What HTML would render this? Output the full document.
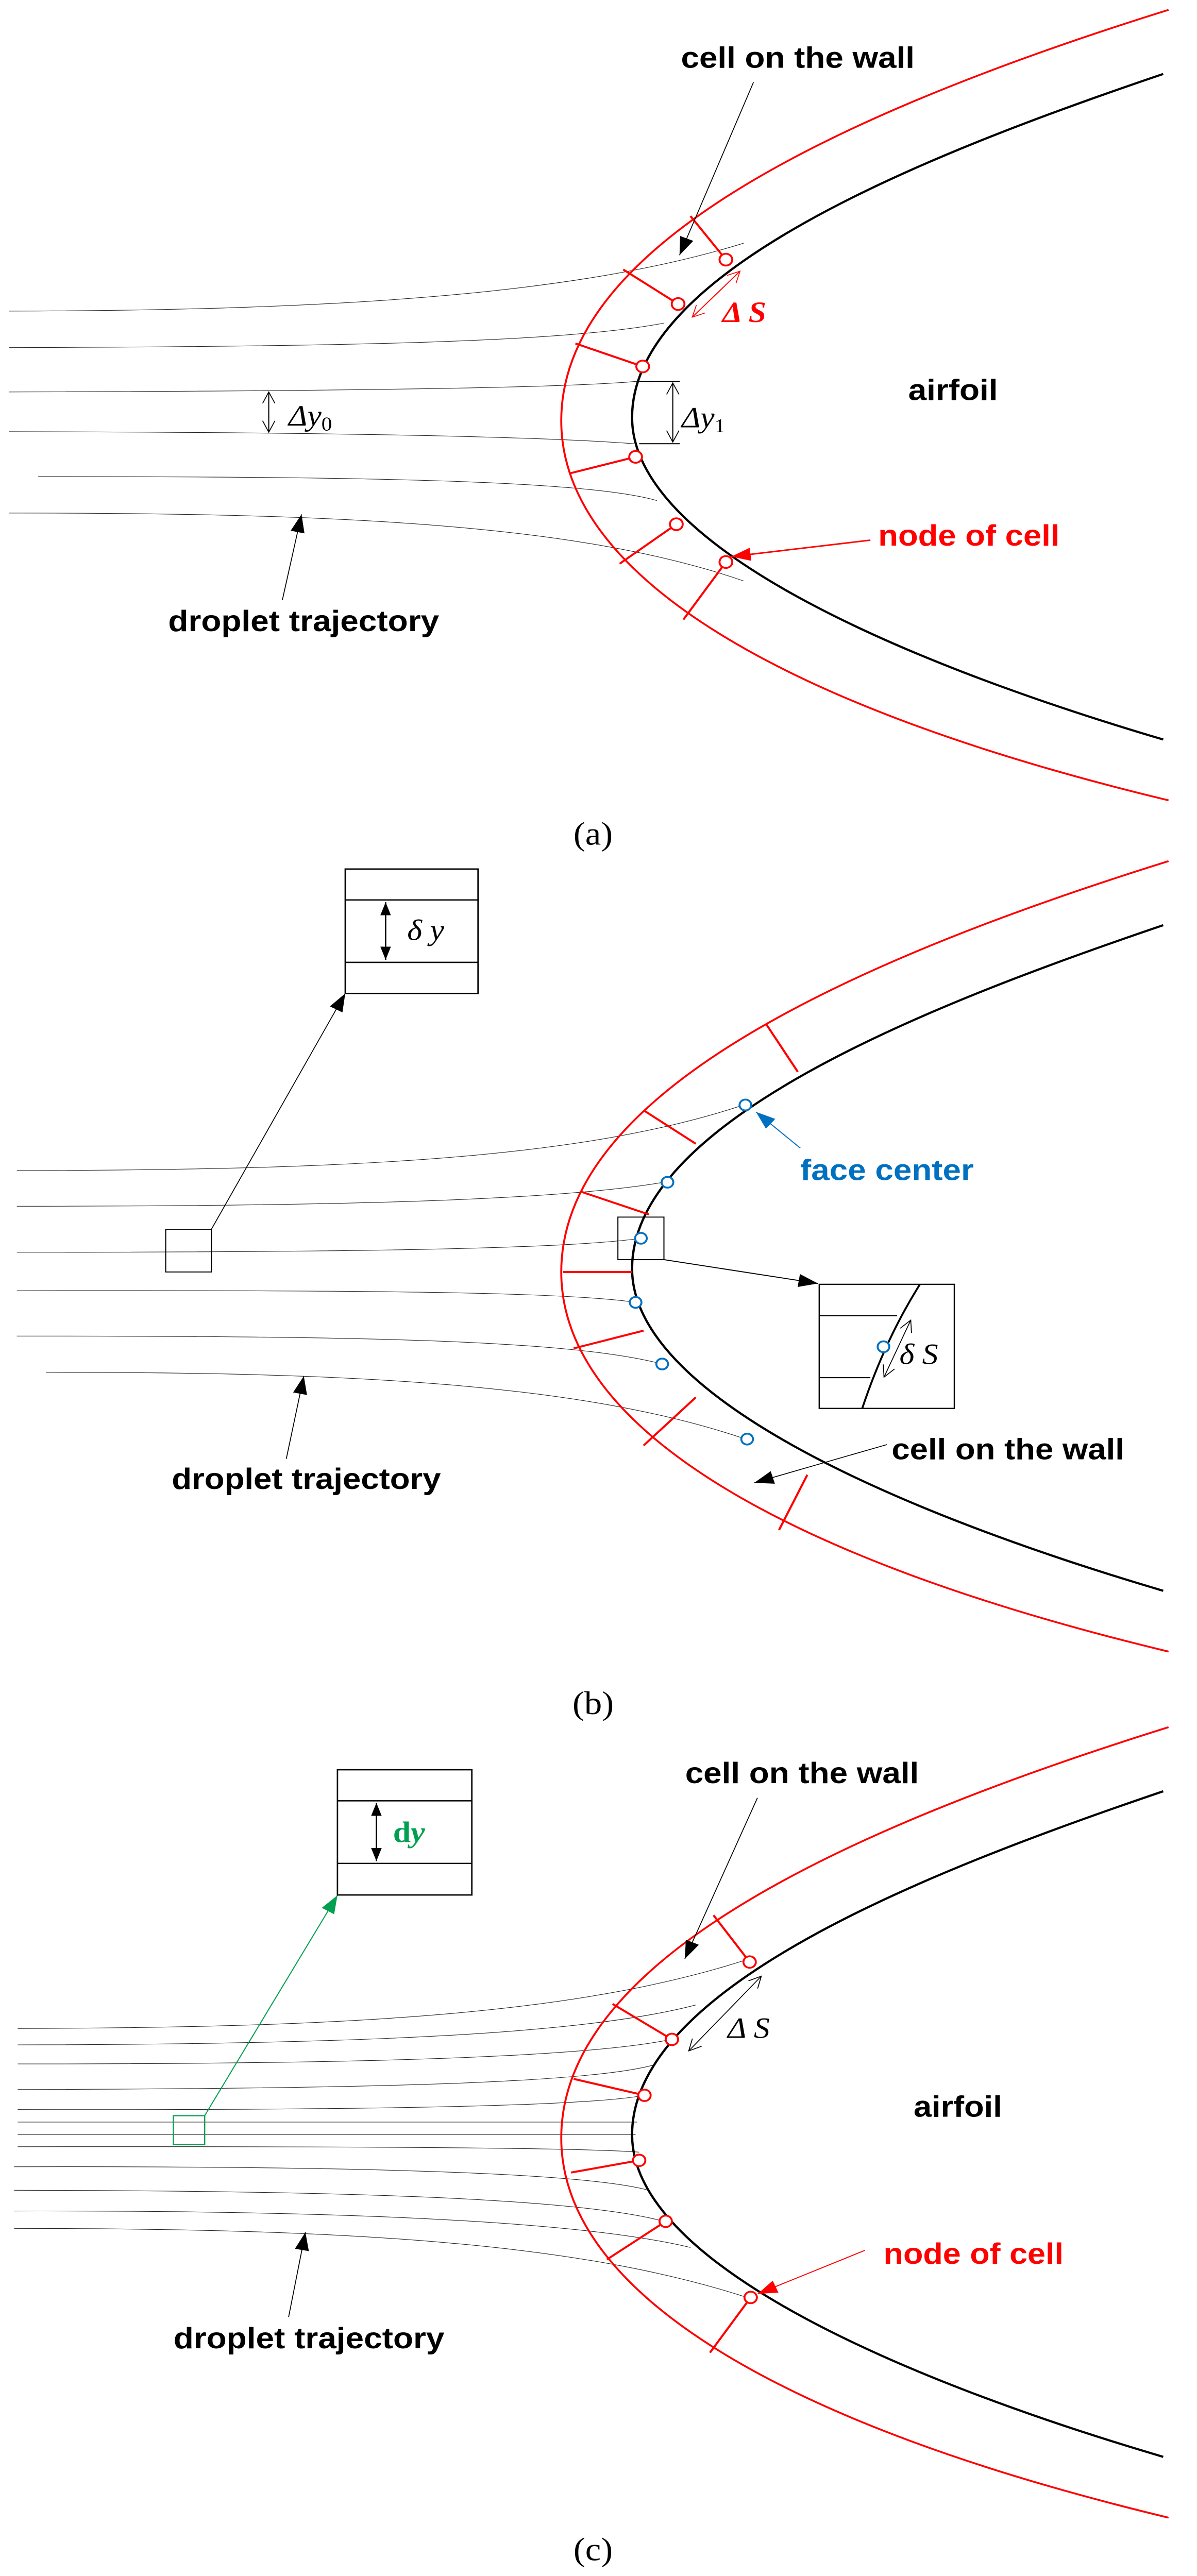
<!DOCTYPE html>
<html><head><meta charset="utf-8"><style>
html,body{margin:0;padding:0;background:#fff;width:100%;height:100%;overflow:hidden}
svg{display:block;position:absolute;left:0;top:0;width:100vw;height:100vh}
.lbl{font-family:"Liberation Sans Narrow","Liberation Sans",sans-serif;font-weight:bold;font-size:18px}
.m{font-family:"Liberation Serif",serif;font-style:italic;font-size:18px}
.cap{font-family:"Liberation Serif",serif;font-size:20px}
</style></head><body>
<svg viewBox="0 0 676.08 1567.5" preserveAspectRatio="none" xmlns="http://www.w3.org/2000/svg">
<defs>
<marker id="ab" markerUnits="userSpaceOnUse" markerWidth="12" markerHeight="8" refX="11" refY="4" orient="auto-start-reverse"><path d="M0,0 L11,4 L0,8 z" fill="#000"/></marker>
<marker id="ar" markerUnits="userSpaceOnUse" markerWidth="12" markerHeight="8" refX="11" refY="4" orient="auto-start-reverse"><path d="M0,0 L11,4 L0,8 z" fill="#f00"/></marker>
<marker id="abl" markerUnits="userSpaceOnUse" markerWidth="12" markerHeight="8" refX="11" refY="4" orient="auto-start-reverse"><path d="M0,0 L11,4 L0,8 z" fill="#0070c0"/></marker>
<marker id="ag" markerUnits="userSpaceOnUse" markerWidth="12" markerHeight="8" refX="11" refY="4" orient="auto-start-reverse"><path d="M0,0 L11,4 L0,8 z" fill="#00a050"/></marker>
<marker id="ob" markerUnits="userSpaceOnUse" markerWidth="8" markerHeight="8" refX="7" refY="4" orient="auto-start-reverse"><path d="M0,0.5 L7,4 L0,7.5" fill="none" stroke="#000" stroke-width="0.5"/></marker>
<marker id="or" markerUnits="userSpaceOnUse" markerWidth="8" markerHeight="8" refX="7" refY="4" orient="auto-start-reverse"><path d="M0,0.5 L7,4 L0,7.5" fill="none" stroke="#f00" stroke-width="0.5"/></marker>
<marker id="fb" markerUnits="userSpaceOnUse" markerWidth="9" markerHeight="6" refX="8" refY="3" orient="auto-start-reverse"><path d="M0,0 L8,3 L0,6 z" fill="#000"/></marker>
<g id="red"><path d="M660,6 C440,80 317,160 317,256 C317,350 440,430 660,487" fill="none" stroke="#f00" stroke-width="1.1"/></g>
<g id="blk"><path d="M657,45 C520,95 357,165 357,254 C357,330 500,400 657,450" fill="none" stroke="#000" stroke-width="1.3"/></g>
</defs>

<!-- ===== Panel (a) ===== -->
<g fill="none" stroke="#222" stroke-width="0.35">
<path d="M5,189.3 C200,189 330,178 420,148"/>
<path d="M5,211.5 C200,211 320,208 375,196.6"/>
<path d="M5,238.5 C200,238 320,236 360,232"/>
<path d="M5,262.7 C200,263 310,266 358,270"/>
<path d="M21.6,290 C200,290 330,292 371,304.6"/>
<path d="M5,312.2 C200,312 330,320 420,353.5"/>
</g>
<use href="#red"/>
<use href="#blk"/>
<g stroke="#f00" stroke-width="1.2">
<line x1="390" y1="131.5" x2="410" y2="158"/>
<line x1="352" y1="164" x2="383" y2="185"/>
<line x1="325" y1="209" x2="363" y2="223"/>
<line x1="322" y1="288" x2="359" y2="278"/>
<line x1="350" y1="343" x2="382" y2="319"/>
<line x1="386" y1="377" x2="410" y2="342"/>
</g>
<g fill="#fff" stroke="#f00" stroke-width="1.1">
<circle cx="410" cy="158" r="3.6"/><circle cx="383" cy="185" r="3.6"/><circle cx="363" cy="223" r="3.6"/>
<circle cx="359" cy="278" r="3.6"/><circle cx="382" cy="319" r="3.6"/><circle cx="410" cy="342" r="3.6"/>
</g>
<g stroke="#000" stroke-width="0.6" fill="none">
<line x1="361" y1="232" x2="384" y2="232"/>
<line x1="361" y1="270" x2="384" y2="270"/>
<line x1="380" y1="233" x2="380" y2="269" marker-start="url(#ob)" marker-end="url(#ob)"/>
<line x1="151.8" y1="238.5" x2="151.8" y2="263" marker-start="url(#ob)" marker-end="url(#ob)"/>
</g>
<text class="m" x="385" y="260">Δ<tspan>y</tspan><tspan font-style="normal" font-size="12" dy="3">1</tspan></text>
<text class="m" x="163" y="259">Δ<tspan>y</tspan><tspan font-style="normal" font-size="12" dy="3">0</tspan></text>
<line x1="391" y1="193" x2="418" y2="165" stroke="#f00" stroke-width="0.6" marker-start="url(#or)" marker-end="url(#or)"/>
<text class="m" x="408" y="196" fill="#f00" font-weight="bold">Δ S</text>
<text class="lbl" x="384.6" y="41.3" textLength="132" lengthAdjust="spacingAndGlyphs">cell on the wall</text>
<line x1="425.6" y1="50" x2="383.8" y2="155.3" stroke="#000" stroke-width="0.5" marker-end="url(#ab)"/>
<text class="lbl" x="513" y="243.5" textLength="50.6" lengthAdjust="spacingAndGlyphs">airfoil</text>
<text class="lbl" x="496" y="332" fill="#f00" textLength="102.5" lengthAdjust="spacingAndGlyphs">node of cell</text>
<line x1="491.6" y1="328.7" x2="413" y2="338.7" stroke="#f00" stroke-width="0.9" marker-end="url(#ar)"/>
<text class="lbl" x="95" y="384" textLength="153" lengthAdjust="spacingAndGlyphs">droplet trajectory</text>
<line x1="159.5" y1="365" x2="170.3" y2="313" stroke="#000" stroke-width="0.5" marker-end="url(#ab)"/>
<text class="cap" x="335" y="514" text-anchor="middle">(a)</text>

<!-- ===== Panel (b) ===== -->
<g fill="none" stroke="#222" stroke-width="0.35">
<path d="M9.5,712.3 C200,712 330,705 421,672"/>
<path d="M9.5,734 C200,734 320,730 377,719"/>
<path d="M9.5,762 C200,762 320,760 362,753.5"/>
<path d="M9.5,785.4 C200,785 320,786 359,792.5"/>
<path d="M9.5,813 C200,813 320,815 374,830"/>
<path d="M26,835 C200,835 330,842 422,876"/>
</g>
<use href="#red" transform="translate(0,518)"/>
<use href="#blk" transform="translate(0,518)"/>
<g stroke="#f00" stroke-width="1.2">
<line x1="433" y1="623.6" x2="450.6" y2="652.2"/>
<line x1="363.5" y1="675.6" x2="393" y2="696"/>
<line x1="328.6" y1="725.3" x2="366.5" y2="739"/>
<line x1="318" y1="774" x2="357" y2="774"/>
<line x1="324" y1="820.5" x2="363.5" y2="809.7"/>
<line x1="363.5" y1="879.6" x2="393" y2="850.3"/>
<line x1="440" y1="931" x2="456" y2="897.4"/>
</g>
<g fill="#fff" stroke="#0070c0" stroke-width="1.1">
<circle cx="421" cy="672.4" r="3.3"/><circle cx="377" cy="719.4" r="3.3"/><circle cx="362" cy="753.5" r="3.3"/>
<circle cx="359" cy="792.5" r="3.3"/><circle cx="374" cy="830" r="3.3"/><circle cx="422" cy="875.7" r="3.3"/>
</g>
<rect x="93.6" y="748" width="25.8" height="26" fill="none" stroke="#000" stroke-width="0.6"/>
<line x1="119.4" y1="748" x2="195" y2="604.5" stroke="#000" stroke-width="0.5" marker-end="url(#ab)"/>
<g fill="none" stroke="#000" stroke-width="0.8">
<rect x="195" y="528.8" width="75" height="75.7"/>
<line x1="195" y1="547.6" x2="270" y2="547.6"/>
<line x1="195" y1="585.6" x2="270" y2="585.6"/>
</g>
<line x1="217.8" y1="549" x2="217.8" y2="584" stroke="#000" stroke-width="0.8" marker-start="url(#fb)" marker-end="url(#fb)"/>
<text class="m" x="230" y="572">δ y</text>
<rect x="349" y="740.6" width="26" height="25.9" fill="none" stroke="#000" stroke-width="0.6"/>
<line x1="375" y1="766.5" x2="462" y2="781" stroke="#000" stroke-width="0.6" marker-end="url(#ab)"/>
<g fill="none" stroke="#000" stroke-width="0.7">
<rect x="462.7" y="781.5" width="76.3" height="75.5"/>
<line x1="462.7" y1="800.6" x2="506.7" y2="800.6"/>
<line x1="462.7" y1="838.3" x2="491.6" y2="838.3"/>
<path d="M519.6,781.5 Q500,815 487,857" stroke-width="1.1"/>
<line x1="514.4" y1="803.3" x2="499.3" y2="838" stroke-width="0.5" marker-start="url(#ob)" marker-end="url(#ob)"/>
</g>
<circle cx="499" cy="819.5" r="3.3" fill="#fff" stroke="#0070c0" stroke-width="1.1"/>
<text class="m" x="508" y="830">δ S</text>
<text class="lbl" x="452" y="718" fill="#0070c0" textLength="98" lengthAdjust="spacingAndGlyphs">face center</text>
<line x1="452" y1="698.6" x2="427" y2="676.6" stroke="#0070c0" stroke-width="0.6" marker-end="url(#abl)"/>
<text class="lbl" x="503.6" y="888" textLength="131.4" lengthAdjust="spacingAndGlyphs">cell on the wall</text>
<line x1="501" y1="879" x2="426" y2="902.3" stroke="#000" stroke-width="0.5" marker-end="url(#ab)"/>
<text class="lbl" x="97" y="906" textLength="152" lengthAdjust="spacingAndGlyphs">droplet trajectory</text>
<line x1="161.7" y1="887.7" x2="171.6" y2="837.3" stroke="#000" stroke-width="0.5" marker-end="url(#ab)"/>
<text class="cap" x="335" y="1043" text-anchor="middle">(b)</text>

<!-- ===== Panel (c) ===== -->
<g fill="none" stroke="#222" stroke-width="0.35">
<path d="M10,1234.3 C200,1234 330,1225 423,1192"/>
<path d="M10,1244.3 C200,1244 330,1238 393,1220"/>
<path d="M10,1255.9 C200,1256 330,1252 379,1241"/>
<path d="M10,1271.5 C200,1271 330,1268 369,1256.6"/>
<path d="M10,1283.7 C200,1284 330,1282 364,1275"/>
<path d="M10,1291.3 L360,1291.3"/>
<path d="M10,1299 L359,1299"/>
<path d="M10,1306.3 C200,1306 330,1307 361,1309.6"/>
<path d="M8,1318.5 C200,1318 330,1322 366.5,1332.8"/>
<path d="M8,1332.8 C200,1333 330,1338 376,1352"/>
<path d="M8,1345.4 C200,1345 330,1352 390,1367.6"/>
<path d="M8,1356 C200,1356 330,1365 424.7,1399"/>
</g>
<use href="#red" transform="translate(0,1045)"/>
<use href="#blk" transform="translate(0,1045)"/>
<g stroke="#f00" stroke-width="1.2">
<line x1="403" y1="1165.4" x2="423.4" y2="1193.9"/>
<line x1="346" y1="1219.4" x2="379.5" y2="1241"/>
<line x1="324" y1="1265" x2="364" y2="1275"/>
<line x1="322.5" y1="1322" x2="361" y2="1314.6"/>
<line x1="342.8" y1="1374.9" x2="376" y2="1351.7"/>
<line x1="401" y1="1431.6" x2="424" y2="1398"/>
</g>
<g fill="#fff" stroke="#f00" stroke-width="1.1">
<circle cx="423.4" cy="1193.9" r="3.5"/><circle cx="379.5" cy="1241" r="3.5"/><circle cx="364" cy="1275" r="3.5"/>
<circle cx="361" cy="1314.6" r="3.5"/><circle cx="376" cy="1351.7" r="3.5"/><circle cx="424" cy="1398" r="3.5"/>
</g>
<rect x="97.9" y="1287.4" width="17.7" height="17.6" fill="none" stroke="#00a050" stroke-width="0.7"/>
<line x1="115.6" y1="1287.4" x2="190.6" y2="1153.3" stroke="#00a050" stroke-width="0.6" marker-end="url(#ag)"/>
<g fill="none" stroke="#000" stroke-width="0.8">
<rect x="190.6" y="1076.9" width="75.9" height="76.2"/>
<line x1="190.6" y1="1095.8" x2="266.5" y2="1095.8"/>
<line x1="190.6" y1="1133.9" x2="266.5" y2="1133.9"/>
</g>
<line x1="212.6" y1="1097" x2="212.6" y2="1132.5" stroke="#000" stroke-width="0.8" marker-start="url(#fb)" marker-end="url(#fb)"/>
<text x="222" y="1121" fill="#00a050" font-family="Liberation Serif,serif" font-weight="bold" font-size="18">d<tspan font-style="italic">y</tspan></text>
<text class="lbl" x="387" y="1085" textLength="132" lengthAdjust="spacingAndGlyphs">cell on the wall</text>
<line x1="427.8" y1="1094" x2="386.8" y2="1192" stroke="#000" stroke-width="0.5" marker-end="url(#ab)"/>
<line x1="430" y1="1202.5" x2="389" y2="1248" stroke="#000" stroke-width="0.5" marker-start="url(#ob)" marker-end="url(#ob)"/>
<text class="m" x="411" y="1240">Δ S</text>
<text class="lbl" x="516" y="1288" textLength="50" lengthAdjust="spacingAndGlyphs">airfoil</text>
<text class="lbl" x="499" y="1377.5" fill="#f00" textLength="101.7" lengthAdjust="spacingAndGlyphs">node of cell</text>
<line x1="488.6" y1="1369.3" x2="428" y2="1395.8" stroke="#f00" stroke-width="0.6" marker-end="url(#ar)"/>
<text class="lbl" x="98" y="1429" textLength="153" lengthAdjust="spacingAndGlyphs">droplet trajectory</text>
<line x1="163" y1="1410" x2="172.5" y2="1358.3" stroke="#000" stroke-width="0.5" marker-end="url(#ab)"/>
<text class="cap" x="335" y="1558" text-anchor="middle">(c)</text>
</svg>
</body></html>
